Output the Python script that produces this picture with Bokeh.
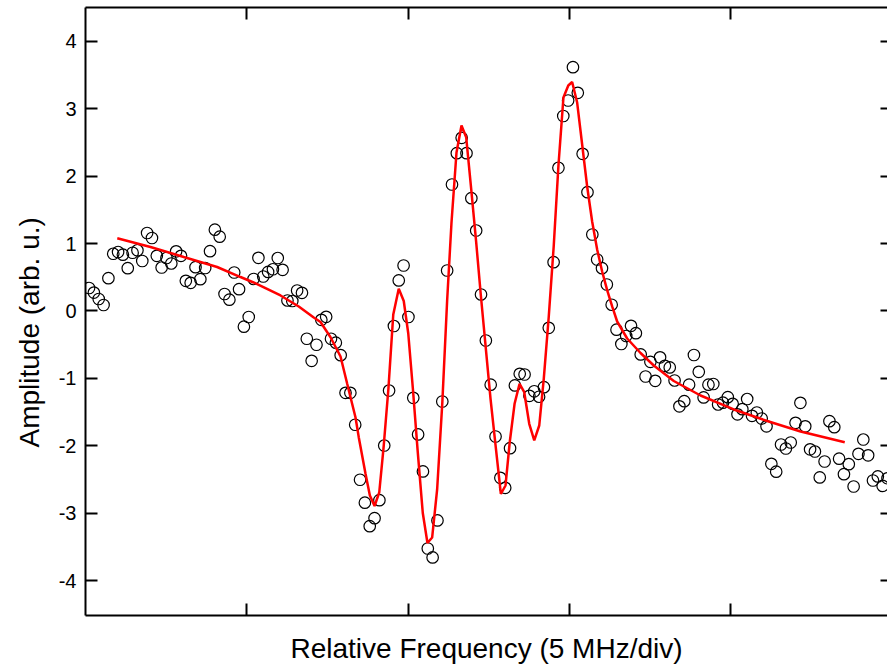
from bokeh.plotting import figure
from bokeh.models import LinearAxis, FixedTicker, Range1d, Title
from bokeh.embed import file_html
from bokeh.resources import INLINE

# ---- data (x in divisions of 5 MHz) ----
freq_div = [
    0.022, 0.052, 0.082, 0.112, 0.142, 0.172, 0.202, 0.232, 0.262, 0.292,
    0.322, 0.352, 0.382, 0.412, 0.442, 0.472, 0.502, 0.532, 0.562, 0.592,
    0.622, 0.652, 0.682, 0.712, 0.742, 0.772, 0.802, 0.832, 0.862, 0.892,
    0.922, 0.952, 0.982, 1.012, 1.042, 1.072, 1.102, 1.132, 1.162, 1.192,
    1.222, 1.252, 1.282, 1.312, 1.342, 1.372, 1.402, 1.432, 1.462, 1.492,
    1.522, 1.552, 1.582, 1.612, 1.642, 1.672, 1.702, 1.732, 1.762, 1.792,
    1.822, 1.852, 1.882, 1.912, 1.942, 1.972, 2.002, 2.032, 2.062, 2.092,
    2.122, 2.152, 2.182, 2.212, 2.242, 2.272, 2.302, 2.332, 2.362, 2.392,
    2.422, 2.452, 2.482, 2.512, 2.542, 2.572, 2.602, 2.632, 2.662, 2.692,
    2.722, 2.752, 2.782, 2.812, 2.842, 2.872, 2.902, 2.932, 2.962, 2.992,
    3.022, 3.052, 3.082, 3.112, 3.142, 3.172, 3.202, 3.232, 3.262, 3.292,
    3.322, 3.352, 3.382, 3.412, 3.442, 3.472, 3.502, 3.532, 3.562, 3.592,
    3.622, 3.652, 3.682, 3.712, 3.742, 3.772, 3.802, 3.832, 3.862, 3.892,
    3.922, 3.952, 3.982, 4.012, 4.042, 4.072, 4.102, 4.132, 4.162, 4.192,
    4.222, 4.252, 4.282, 4.312, 4.342, 4.372, 4.402, 4.432, 4.462, 4.492,
    4.522, 4.552, 4.582, 4.612, 4.642, 4.672, 4.702, 4.732, 4.762, 4.792,
    4.822, 4.852, 4.882, 4.912, 4.942, 4.972,
]
amplitude = [
    0.341, 0.274, 0.178, 0.089, 0.487, 0.849, 0.875, 0.835, 0.635, 0.864,
    0.901, 0.742, 1.157, 1.083, 0.819, 0.645, 0.786, 0.705, 0.886, 0.819,
    0.448, 0.418, 0.650, 0.472, 0.638, 0.887, 1.206, 1.102, 0.252, 0.168,
    0.571, 0.323, -0.233, -0.089, 0.475, 0.789, 0.512, 0.579, 0.619, 0.786,
    0.611, 0.156, 0.148, 0.304, 0.270, -0.412, -0.739, -0.501, -0.131, -0.086,
    -0.412, -0.470, -0.656, -1.214, -1.214, -1.688, -2.504, -2.844, -3.193, -3.074,
    -2.807, -1.996, -1.180, -0.223, 0.453, 0.675, -0.089, -1.288, -1.832, -2.381,
    -3.524, -3.657, -3.108, -1.343, 0.601, 1.877, 2.341, 2.570, 2.341, 1.674,
    1.194, 0.245, -0.438, -1.093, -1.862, -2.475, -2.623, -2.036, -1.105, -0.932,
    -0.942, -1.258, -1.191, -1.272, -1.131, -0.249, 0.724, 2.125, 2.893, 3.123,
    3.617, 3.237, 2.332, 1.763, 1.135, 0.764, 0.635, 0.393, 0.093, -0.277,
    -0.490, -0.371, -0.220, -0.329, -0.645, -0.972, -0.754, -1.036, -0.687, -0.813,
    -0.838, -1.031, -1.414, -1.338, -1.093, -0.653, -0.902, -1.283, -1.093, -1.083,
    -1.387, -1.361, -1.279, -1.377, -1.533, -1.457, -1.306, -1.555, -1.506, -1.595,
    -1.711, -2.267, -2.384, -1.981, -2.040, -1.951, -1.659, -1.362, -1.711, -2.052,
    -2.085, -2.470, -2.233, -1.635, -1.724, -2.191, -2.421, -2.273, -2.604, -2.119,
    -1.907, -2.141, -2.515, -2.455, -2.596, -2.482,
]
fit_freq_div = [
    0.197, 0.403, 0.609, 0.816, 0.961, 1.042, 1.209, 1.322, 1.415, 1.457,
    1.519, 1.581, 1.622, 1.643, 1.674, 1.694, 1.736, 1.763, 1.792, 1.821,
    1.849, 1.878, 1.908, 1.942, 1.973, 2.001, 2.030, 2.060, 2.091, 2.120,
    2.149, 2.180, 2.212, 2.242, 2.269, 2.300, 2.331, 2.360, 2.391, 2.422,
    2.451, 2.482, 2.511, 2.540, 2.575, 2.604, 2.630, 2.660, 2.691, 2.720,
    2.751, 2.782, 2.813, 2.841, 2.872, 2.903, 2.932, 2.963, 2.993, 3.017,
    3.048, 3.079, 3.110, 3.141, 3.172, 3.203, 3.234, 3.265, 3.296, 3.358,
    3.441, 3.523, 3.647, 3.813, 4.019, 4.226, 4.433, 4.707,
]
fit_amplitude = [
    1.080, 0.950, 0.801, 0.653, 0.504, 0.423, 0.230, 0.067, -0.096, -0.163,
    -0.389, -0.675, -1.076, -1.279, -1.580, -1.872, -2.415, -2.737, -2.893, -2.693,
    -1.996, -1.150, -0.052, 0.329, 0.148, -0.334, -1.165, -2.099, -2.997, -3.442,
    -3.361, -2.648, -1.365, 0.156, 1.313, 2.352, 2.752, 2.579, 1.813, 1.021,
    0.230, -0.561, -1.303, -1.947, -2.715, -2.589, -1.947, -1.377, -1.080, -1.205,
    -1.674, -1.921, -1.699, -1.006, -0.082, 0.972, 2.159, 3.168, 3.346, 3.398,
    3.093, 2.470, 1.847, 1.328, 0.912, 0.586, 0.309, 0.067, -0.156, -0.408,
    -0.623, -0.809, -1.039, -1.254, -1.461, -1.632, -1.788, -1.947,
]
x_ticks = [1, 2, 3, 4]
y_ticks = [-4, -3, -2, -1, 0, 1, 2, 3, 4]
y_tick_labels = ["-4", "-3", "-2", "-1", "0", "1", "2", "3", "4"]
x_label = "Relative Frequency (5 MHz/div)"
y_label = "Amplitude (arb. u.)"

FONT = "Liberation Sans"

p = figure(width=887, height=667, output_backend="svg", toolbar_location=None,
           x_range=Range1d(0, 4.972), y_range=Range1d(-4.518, 4.503),
           min_border_left=85, min_border_right=0, min_border_top=7,
           min_border_bottom=52)
p.grid.visible = False
p.outline_line_color = None
p.background_fill_color = "white"
p.border_fill_color = "white"


def style(ax, tick_len=12):
    ax.axis_line_width = 2
    ax.axis_line_color = "black"
    ax.major_tick_line_width = 2
    ax.major_tick_line_color = "black"
    ax.major_tick_in = tick_len
    ax.major_tick_out = 0
    ax.minor_tick_line_color = None
    ax.major_label_text_font = FONT
    ax.major_label_text_font_size = "20px"
    ax.major_label_text_color = "black"
    ax.axis_label_text_font = FONT
    ax.axis_label_text_font_size = "28px"
    ax.axis_label_text_font_style = "normal"
    ax.axis_label_text_color = "black"


xa = p.xaxis[0]
style(xa)
xa.ticker = FixedTicker(ticks=x_ticks)
xa.major_label_overrides = {t: "" for t in x_ticks}
xa.axis_label = x_label
xa.axis_label_standoff = 17

ya = p.yaxis[0]
style(ya)
ya.ticker = FixedTicker(ticks=y_ticks)
ya.major_label_overrides = dict(zip(y_ticks, y_tick_labels))
ya.major_label_standoff = 9

top = LinearAxis(ticker=FixedTicker(ticks=x_ticks))
style(top)
top.major_label_overrides = {t: "" for t in x_ticks}
p.add_layout(top, "above")

right = LinearAxis(ticker=FixedTicker(ticks=y_ticks))
style(right, tick_len=7)
right.axis_line_color = None
right.major_label_overrides = {t: "" for t in y_ticks}
p.add_layout(right, "right")

# y-axis title as a side title so it can sit a little below the frame centre
p.add_layout(Title(text=y_label, align="left", offset=168, standoff=22,
                   text_font=FONT, text_font_size="28px",
                   text_font_style="normal", text_color="black"), "left")

p.scatter(freq_div, amplitude, marker="circle", size=11.5, fill_color=None,
          line_color="black", line_width=1.2)
p.line(fit_freq_div, fit_amplitude, line_color="#ff0000", line_width=2.5)

open("out.html", "w").write(file_html(p, INLINE))
